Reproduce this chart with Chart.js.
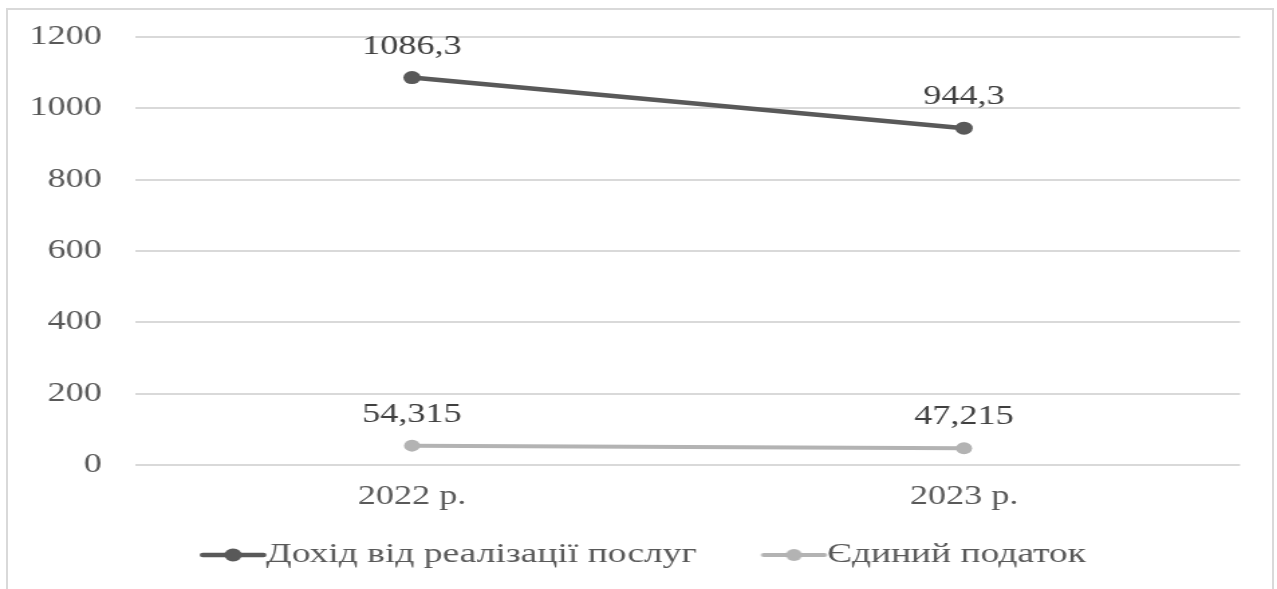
<!DOCTYPE html>
<html>
<head>
<meta charset="utf-8">
<script src="https://cdn.jsdelivr.net/npm/chart.js@4/dist/chart.umd.min.js"></script>
<style>
  html, body { margin: 0; padding: 0; background: #ffffff; overflow: hidden; }
  #frame {
    position: absolute; left: 6px; top: 8px; width: 1268px; height: 620px;
    border: 2px solid #d9d9d9; box-sizing: border-box;
  }
  #stage {
    position: absolute; left: 0; top: 0;
    transform-origin: 0 0;
  }
  canvas { display: block; }
</style>
</head>
<body>
<div id="frame"></div>
<div id="stage"><canvas id="chart"></canvas></div>
<script>
// Years on the horizontal axis
const categories = ['2022 р.', '2023 р.'];
// Series values
const incomeValues = [1086.3, 944.3];
const taxValues = [54.315, 47.215];
// Series names
const seriesNames = ['Дохід від реалізації послуг', 'Єдиний податок'];
// Value axis ticks
const yTicks = [0, 200, 400, 600, 800, 1000, 1200];

// Horizontal stretch of the drawing
const STRETCH = 1.34;
const PAGE_W = 1277;
const CANVAS_W = Math.round(PAGE_W / STRETCH);
const CANVAS_H = 589;

const canvas = document.getElementById('chart');
canvas.width = CANVAS_W;
canvas.height = CANVAS_H;
canvas.style.width = CANVAS_W + 'px';
canvas.style.height = CANVAS_H + 'px';
document.getElementById('stage').style.transform = 'scaleX(' + STRETCH + ')';

const FONT = '"Liberation Serif", "Times New Roman", serif';
const DARK = '#595959';
const LIGHT = '#b3b3b3';

// Plot area top edge (canvas units)
const PLOT_TOP = 37;

// Legend geometry (canvas units)
const LEGEND_FS = 28;        // legend font size
const LEGEND_PAD = 10;       // legend item padding
const MARK_LEN = 49.3;       // length of the line marker
const MARK_OFF = 37.8;       // marker start from the item's left edge
const BOX_W = MARK_OFF + MARK_LEN - LEGEND_FS / 2;  // reserved box width
const LEGEND_START = 111.5;  // left edge of the first legend item

// Legend marker: a short line with a dot in the middle
function legendMarker(color, lw, r) {
  const w = 104, h = 18;
  const c = document.createElement('canvas');
  c.width = w; c.height = h;
  const g = c.getContext('2d');
  const x0 = MARK_OFF - BOX_W / 2 + w / 2;
  const x1 = x0 + MARK_LEN;
  const cy = h / 2;
  g.strokeStyle = color; g.lineWidth = lw; g.lineCap = 'round';
  g.beginPath(); g.moveTo(x0 + 2, cy); g.lineTo(x1 - 2, cy); g.stroke();
  g.fillStyle = color;
  g.beginPath(); g.arc((x0 + x1) / 2, cy, r, 0, Math.PI * 2); g.fill();
  return c;
}

// Value labels above each point
const valueLabels = {
  id: 'valueLabels',
  afterDatasetsDraw(chart) {
    const ctx = chart.ctx;
    ctx.save();
    ctx.font = '27px ' + FONT;
    ctx.fillStyle = '#404040';
    ctx.textAlign = 'center';
    ctx.textBaseline = 'middle';
    chart.data.datasets.forEach((ds, i) => {
      const meta = chart.getDatasetMeta(i);
      meta.data.forEach((pt, j) => {
        const txt = String(ds.data[j]).replace('.', ',');
        ctx.fillText(txt, pt.x, pt.y - 31);
      });
    });
    ctx.restore();
  }
};

// Moves the legend row so that it starts at LEGEND_START
const legendShift = {
  id: 'legendShift',
  afterLayout(chart) {
    const lg = chart.legend;
    if (!lg || !lg.lineWidths) return;
    const pad = lg.options.labels.padding;
    const start = (lg.left + pad + lg.right - lg.lineWidths[0]) / 2;
    const d = LEGEND_START - start;
    lg.left += d;
    lg.right += d;
  }
};

new Chart(canvas, {
  type: 'line',
  data: {
    labels: categories,
    datasets: [
      {
        label: seriesNames[0],
        data: incomeValues,
        borderColor: DARK,
        backgroundColor: DARK,
        borderWidth: 4.5,
        pointRadius: 6.5,
        pointHoverRadius: 6.5,
        pointBorderWidth: 0,
        pointStyle: 'circle',
        tension: 0
      },
      {
        label: seriesNames[1],
        data: taxValues,
        borderColor: LIGHT,
        backgroundColor: LIGHT,
        borderWidth: 4,
        pointRadius: 6,
        pointHoverRadius: 6,
        pointBorderWidth: 0,
        pointStyle: 'circle',
        tension: 0
      }
    ]
  },
  options: {
    responsive: false,
    animation: false,
    devicePixelRatio: 1,
    layout: { padding: { top: PLOT_TOP, left: 0, right: CANVAS_W - 1240 / STRETCH, bottom: 10 } },
    plugins: {
      tooltip: { enabled: false },
      legend: {
        position: 'bottom',
        labels: {
          usePointStyle: true,
          pointStyleWidth: BOX_W,
          padding: LEGEND_PAD,
          color: DARK,
          font: { family: FONT, size: LEGEND_FS },
          generateLabels(chart) {
            return chart.data.datasets.map((ds, i) => ({
              text: ds.label,
              pointStyle: legendMarker(ds.borderColor, ds.borderWidth, i === 0 ? 6.5 : 6),
              fillStyle: ds.borderColor,
              strokeStyle: ds.borderColor,
              lineWidth: 0,
              fontColor: DARK,
              hidden: false,
              datasetIndex: i
            }));
          }
        }
      }
    },
    scales: {
      x: {
        offset: true,
        grid: { display: false, drawTicks: false },
        border: { display: false },
        ticks: { color: DARK, padding: 16, font: { family: FONT, size: 27 } },
        afterFit(scale) { scale.height = 66; }
      },
      y: {
        min: 0,
        max: 1200,
        afterBuildTicks(scale) { scale.ticks = yTicks.map(v => ({ value: v })); },
        grid: { color: '#d9d9d9', lineWidth: 2, drawTicks: false },
        border: { display: false },
        ticks: {
          color: DARK,
          padding: 25.5,
          font: { family: FONT, size: 27 },
          callback: v => String(v)
        },
        afterFit(scale) {
          scale.width = 136 / STRETCH;
          // label padding only applies sideways; keep the plot top at PLOT_TOP
          scale.paddingTop = 0;
          scale.paddingBottom = 0;
        }
      }
    }
  },
  plugins: [valueLabels, legendShift]
});
</script>
</body>
</html>
